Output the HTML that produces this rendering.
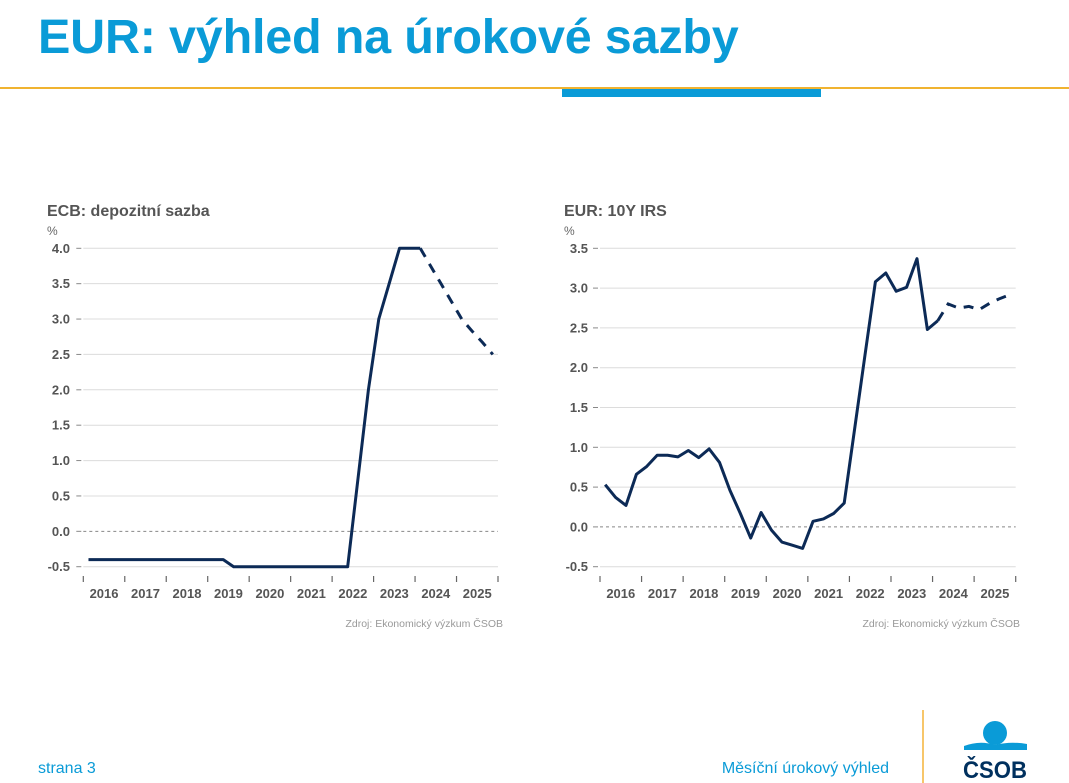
<!DOCTYPE html>
<html><head><meta charset="utf-8"><style>
body{margin:0;width:1069px;height:783px;background:#fff;position:relative;overflow:hidden;font-family:"Liberation Sans",sans-serif}
.abs{position:absolute}
</style></head><body>
<div class="abs" style="left:38px;top:9px;font-size:48.5px;font-weight:bold;color:#0a9bd7;letter-spacing:-0.2px">EUR: výhled na úrokové sazby</div>
<div class="abs" style="left:0;top:87px;width:1069px;height:2px;background:#f0b330"></div>
<div class="abs" style="left:562px;top:89px;width:259px;height:8px;background:#0a9bd7"></div>
<svg class="abs" style="left:0;top:0" width="1069" height="783" id="svg"></svg>
<div class="abs" style="left:38px;top:760px;font-size:16px;color:#0a9bd7">strana 3</div>
<div class="abs" style="right:180px;top:760px;font-size:16px;color:#0a9bd7">Měsíční úrokový výhled</div>
<div class="abs" style="left:922px;top:710px;width:2px;height:73px;background:#f7c66a"></div>
<svg class="abs" style="left:955px;top:718px" width="80" height="65">
<circle cx="40" cy="15" r="12" fill="#0a9bd7"/>
<path d="M9 28 Q25 22 40 27 Q55 23 72 26 L72 32 L9 32 Z" fill="#0a9bd7"/>
<text x="40" y="60" text-anchor="middle" font-size="24" font-weight="bold" fill="#00305e" font-family="Liberation Sans" textLength="64" lengthAdjust="spacingAndGlyphs">ČSOB</text>
</svg>
<script>
const years=['2016','2017','2018','2019','2020','2021','2022','2023','2024','2025'];
const ecbTicks=[4.0,3.5,3.0,2.5,2.0,1.5,1.0,0.5,0.0,-0.5];
const irsTicks=[3.5,3.0,2.5,2.0,1.5,1.0,0.5,0.0,-0.5];
const ecbValues=[-0.4,-0.4,-0.4,-0.4,-0.4,-0.4,-0.4,-0.4,-0.4,-0.4,-0.4,-0.4,-0.4,-0.4,-0.5,-0.5,-0.5,-0.5,-0.5,-0.5,-0.5,-0.5,-0.5,-0.5,-0.5,-0.5,0.75,2.0,3.0,3.5,4.0,4.0,4.0,3.75,3.5,3.25,3.0,2.83,2.67,2.5];
const irsValues=[0.53,0.37,0.27,0.66,0.76,0.90,0.90,0.88,0.96,0.87,0.98,0.81,0.46,0.17,-0.14,0.18,-0.04,-0.19,-0.23,-0.27,0.07,0.10,0.17,0.30,1.23,2.16,3.08,3.19,2.96,3.01,3.37,2.48,2.59,2.80,2.75,2.77,2.73,2.81,2.87,2.92];
const forecastStart=32;
const svg=document.getElementById('svg');
const NS='http://www.w3.org/2000/svg';
function mk(tag,attrs,parent){const e=document.createElementNS(NS,tag);for(const k in attrs)e.setAttribute(k,attrs[k]);(parent||svg).appendChild(e);return e;}
function chart(o){
  const g=mk('g',{});
  
  
  const x0=o.x0,x1=o.x1,yTop=248.3,yBot=566.7;
  const vmax=o.ticks[0],vmin=o.ticks[o.ticks.length-1];
  const X=t=>x0+(x1-x0)*t/years.length;
  const Y=v=>yTop+(vmax-v)/(vmax-vmin)*(yBot-yTop);
  const t1=mk('text',{x:o.tx,y:216,'font-size':16,'font-weight':'bold',fill:'#555'},g);t1.textContent=o.title;
  
  const u=mk('text',{x:o.tx,y:235,'font-size':12,fill:'#666'},g);u.textContent='%';
  
  o.ticks.forEach(v=>{
    const y=Y(v);
    const gl=mk('line',{x1:x0,x2:x1,y1:y,y2:y,stroke:v===0?'#888':'#dcdcdc','stroke-width':1,'stroke-dasharray':v===0?'3,3':'none'},g);
    
    mk('line',{x1:x0-7,x2:x0-2,y1:y,y2:y,stroke:'#888'},g);
    const t=mk('text',{x:o.lx,y:y+4.5,'font-size':13,'font-weight':'bold',fill:'#555','text-anchor':'end'},g);
    t.textContent=v.toFixed(1);
    
  });
  for(let i=0;i<=years.length;i++)mk('line',{x1:X(i),x2:X(i),y1:576,y2:582,stroke:'#666','stroke-width':1.2},g);
  years.forEach((yr,i)=>{
    const t=mk('text',{x:X(i+0.5),y:598,'font-size':13,'font-weight':'bold',fill:'#555','text-anchor':'middle'},g);
    t.textContent=yr;
    
  });
  const pts=o.values.map((v,i)=>[X((i+0.5)/4),Y(v)]);
  const s=pts.slice(0,forecastStart+1).map(p=>p.join(',')).join(' ');
  const f=pts.slice(forecastStart).map(p=>p.join(',')).join(' ');
  const l1=mk('polyline',{points:s,fill:'none',stroke:'#0c2a56','stroke-width':3,'stroke-linejoin':'round'},g);
  
  const l2=mk('polyline',{points:f,fill:'none',stroke:'#0c2a56','stroke-width':3,'stroke-dasharray':'10,8'},g);
  
  const src=mk('text',{x:o.sx,y:627,'font-size':10.5,fill:'#999','text-anchor':'end'},g);
  src.textContent='Zdroj: Ekonomický výzkum ČSOB';
  
}
chart({name:'ecb-deposit-rate-chart',title:'ECB: depozitní sazba',values:ecbValues,ticks:ecbTicks,x0:83.3,x1:498,tx:47,lx:70,sx:503});
chart({name:'eur-10y-irs-chart',title:'EUR: 10Y IRS',values:irsValues,ticks:irsTicks,x0:600,x1:1015.7,tx:564,lx:588,sx:1020});
</script>
</body></html>
